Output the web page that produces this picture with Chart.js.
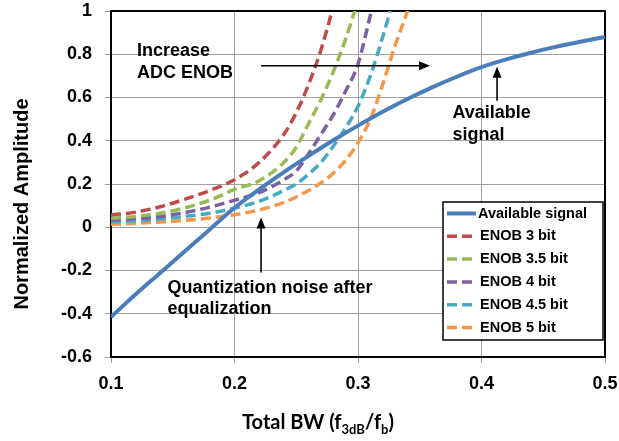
<!DOCTYPE html>
<html>
<head>
<meta charset="utf-8">
<script src="https://cdn.jsdelivr.net/npm/chart.js@4/dist/chart.umd.min.js"></script>
<style>
  html, body { margin: 0; padding: 0; background: #fff; }
  #chart { display: block; }
</style>
</head>
<body>
<canvas id="chart" width="619" height="441"></canvas>
<script>
/* ── data ────────────────────────────────────────────────────────────────── */

const bwSignal        = [0.10, 0.12, 0.14, 0.16, 0.18, 0.20, 0.22, 0.24, 0.26, 0.28, 0.30,
                         0.32, 0.34, 0.36, 0.38, 0.40, 0.42, 0.44, 0.46, 0.48, 0.50];
const availableSignal = [-0.415, -0.31, -0.21, -0.11, -0.01, 0.09, 0.175, 0.255, 0.33, 0.402, 0.47,
                         0.534, 0.593, 0.647, 0.696, 0.74, 0.776, 0.807, 0.834, 0.858, 0.88];

const bwEnob3  = [0.10, 0.12, 0.14, 0.16, 0.18, 0.20, 0.22, 0.24, 0.25, 0.26, 0.27, 0.28];
const enob3    = [0.057, 0.07, 0.095, 0.13, 0.17, 0.22, 0.30, 0.43, 0.53, 0.66, 0.82, 1.02];

const bwEnob35 = [0.10, 0.12, 0.14, 0.16, 0.18, 0.20, 0.22, 0.24, 0.25, 0.26, 0.27, 0.28, 0.29, 0.30];
const enob35   = [0.042, 0.05, 0.065, 0.09, 0.125, 0.175, 0.215, 0.30, 0.37, 0.48, 0.59, 0.72, 0.87, 1.05];

const bwEnob4  = [0.10, 0.12, 0.14, 0.16, 0.18, 0.20, 0.22, 0.24, 0.25, 0.26, 0.27, 0.28, 0.29, 0.30, 0.31, 0.315];
const enob4    = [0.034, 0.04, 0.05, 0.068, 0.093, 0.125, 0.16, 0.22, 0.26, 0.34, 0.43, 0.52, 0.63, 0.755, 0.98, 1.1];

const bwEnob45 = [0.10, 0.12, 0.14, 0.16, 0.18, 0.20, 0.22, 0.24, 0.25, 0.26, 0.27, 0.28, 0.29, 0.30, 0.31, 0.32, 0.33];
const enob45   = [0.025, 0.03, 0.038, 0.05, 0.065, 0.088, 0.12, 0.17, 0.20, 0.245, 0.30, 0.375, 0.46, 0.56, 0.70, 0.88, 1.08];

const bwEnob5  = [0.10, 0.12, 0.14, 0.16, 0.18, 0.20, 0.22, 0.24, 0.25, 0.26, 0.27, 0.28, 0.29, 0.30, 0.31, 0.32, 0.33, 0.34, 0.345];
const enob5    = [0.014, 0.018, 0.024, 0.032, 0.043, 0.058, 0.08, 0.115, 0.14, 0.17, 0.205, 0.25, 0.31, 0.39, 0.50, 0.66, 0.84, 1.0, 1.1];

const seriesLabels = ['Available signal', 'ENOB 3 bit', 'ENOB 3.5 bit', 'ENOB 4 bit', 'ENOB 4.5 bit', 'ENOB 5 bit'];
const seriesColors = ['#4a7ebb', '#be4b48', '#98b954', '#7d60a0', '#46aac5', '#f79646'];

const xTicks = { min: 0.1, max: 0.5, step: 0.1 };
const yTicks = { min: -0.6, max: 1, step: 0.2 };

/* ── helpers ─────────────────────────────────────────────────────────────── */

const FONT = "'Liberation Sans', Arial, sans-serif";

const toPoints = (xs, ys) => xs.map((x, i) => ({ x, y: ys[i] }));

function dashed(i, xs, ys) {
  return {
    label:            seriesLabels[i],
    data:             toPoints(xs, ys),
    borderColor:      seriesColors[i],
    borderWidth:      3.5,
    borderDash:       [10, 5],
    pointRadius:      0,
    cubicInterpolationMode: 'monotone',
    clip:             0,
  };
}

function arrow(ctx, x1, y1, x2, y2) {
  const ang = Math.atan2(y2 - y1, x2 - x1);
  const len = 11, half = 4.5;
  ctx.beginPath();
  ctx.moveTo(x1, y1);
  ctx.lineTo(x2 - Math.cos(ang) * len * 0.8, y2 - Math.sin(ang) * len * 0.8);
  ctx.stroke();
  ctx.beginPath();
  ctx.moveTo(x2, y2);
  ctx.lineTo(x2 - Math.cos(ang) * len - Math.sin(ang) * half, y2 - Math.sin(ang) * len + Math.cos(ang) * half);
  ctx.lineTo(x2 - Math.cos(ang) * len + Math.sin(ang) * half, y2 - Math.sin(ang) * len - Math.cos(ang) * half);
  ctx.closePath();
  ctx.fill();
}

/* ── plugins ─────────────────────────────────────────────────────────────── */

// black frame round the plot area, drawn over the grid but under the lines
const plotFrame = {
  id: 'plotFrame',
  beforeDatasetsDraw(chart) {
    const { ctx, chartArea: a } = chart;
    ctx.save();
    ctx.strokeStyle = '#000';
    ctx.lineWidth = 2;
    ctx.strokeRect(a.left, a.top, a.right - a.left, a.bottom - a.top);
    ctx.restore();
  },
};

// text notes and arrows, placed in data units
const notes = {
  id: 'notes',
  afterDatasetsDraw(chart) {
    const { ctx } = chart;
    const X = v => chart.scales.x.getPixelForValue(v);
    const Y = v => chart.scales.y.getPixelForValue(v);
    ctx.save();
    ctx.fillStyle = '#000';
    ctx.strokeStyle = '#000';
    ctx.lineWidth = 1.6;
    arrow(ctx, X(0.2215), Y(0.747), X(0.3583), Y(0.747));
    arrow(ctx, X(0.2215), Y(-0.209), X(0.2215), Y(0.045));
    arrow(ctx, X(0.4126), Y(0.585), X(0.4126), Y(0.742));

    ctx.font = 'bold 18px ' + FONT;
    ctx.textAlign = 'left';
    ctx.textBaseline = 'middle';
    ctx.fillText('Increase', X(0.121), Y(0.813));
    ctx.fillText('ADC ENOB', X(0.121), Y(0.713));
    ctx.fillText('Available', X(0.3765), Y(0.53));
    ctx.fillText('signal', X(0.3765), Y(0.428));
    ctx.fillText('Quantization noise after', X(0.1458), Y(-0.283));
    ctx.fillText('equalization', X(0.1458), Y(-0.38));
    ctx.restore();
  },
};

// boxed legend in the lower right of the plot
const legendBox = {
  id: 'legendBox',
  afterDraw(chart) {
    const { ctx, chartArea: a } = chart;
    const w = 160, h = 138;
    const left = a.right - 2 - w, top = a.bottom - 17 - h;
    ctx.save();
    ctx.fillStyle = '#fff';
    ctx.fillRect(left, top, w, h);
    ctx.strokeStyle = '#000';
    ctx.lineWidth = 1.5;
    ctx.strokeRect(left, top, w, h);

    ctx.font = 'bold 14.5px ' + FONT;
    ctx.textBaseline = 'middle';
    chart.data.datasets.forEach((ds, i) => {
      const y = top + 11.5 + i * 22.8;
      ctx.strokeStyle = ds.borderColor;
      ctx.lineWidth = ds.borderWidth;
      ctx.setLineDash(ds.borderDash || []);
      ctx.beginPath();
      ctx.moveTo(left + 4, y);
      ctx.lineTo(left + 33, y);
      ctx.stroke();
      ctx.setLineDash([]);
      ctx.fillStyle = '#000';
      ctx.fillText(ds.label, left + 35 + (i ? 2 : 0), y);
    });
    ctx.restore();
  },
};

// axis titles (the x title needs subscripts)
const axisTitles = {
  id: 'axisTitles',
  afterDraw(chart) {
    const { ctx } = chart;
    ctx.save();
    ctx.fillStyle = '#000';

    ctx.font = 'bold 20px ' + FONT;
    ctx.textAlign = 'center';
    ctx.textBaseline = 'middle';
    ctx.translate(22, 204);
    ctx.rotate(-Math.PI / 2);
    ctx.fillText('Normalized Amplitude', 0, 0);
    ctx.setTransform(1, 0, 0, 1, 0, 0);

    const parts = [
      ['Total BW (f', false], ['3dB', true], ['/f', false], ['b', true], [')', false],
    ];
    const big = 'bold 20px Lato, sans-serif', small = 'bold 13px Lato, sans-serif';
    let total = 0;
    parts.forEach(([t, sub]) => { ctx.font = sub ? small : big; total += ctx.measureText(t).width; });
    let x = 318 - total / 2;
    const base = 429;
    ctx.textAlign = 'left';
    ctx.textBaseline = 'alphabetic';
    parts.forEach(([t, sub]) => {
      ctx.font = sub ? small : big;
      ctx.fillText(t, x, sub ? base + 5 : base);
      x += ctx.measureText(t).width;
    });
    ctx.restore();
  },
};

/* ── chart ───────────────────────────────────────────────────────────────── */

const fmtTick = v => {
  const r = Math.round(v * 10) / 10;
  return (r === 0 ? 0 : r).toString();
};

// fixed plot box: 111px for the y axis, 84px for the x axis
function fitX(s) {
  s.height = 84;
  s.paddingLeft = 0;
  s.paddingRight = 0;
}
function fitY(s) {
  s.width = 111;
  s.paddingTop = 0;
  s.paddingBottom = 0;
}

new Chart(document.getElementById('chart'), {
  type: 'line',
  data: {
    datasets: [
      {
        label:       seriesLabels[0],
        data:        toPoints(bwSignal, availableSignal),
        borderColor: seriesColors[0],
        borderWidth: 4,
        pointRadius: 0,
        cubicInterpolationMode: 'monotone',
        clip:        0,
      },
      dashed(1, bwEnob3, enob3),
      dashed(2, bwEnob35, enob35),
      dashed(3, bwEnob4, enob4),
      dashed(4, bwEnob45, enob45),
      dashed(5, bwEnob5, enob5),
    ],
  },
  options: {
    responsive: false,
    animation:  false,
    devicePixelRatio: 1,
    layout: { autoPadding: false, padding: { left: 0, right: 14, top: 11, bottom: 0 } },
    plugins: {
      legend:  { display: false },
      tooltip: { enabled: false },
    },
    scales: {
      x: {
        type: 'linear',
        min:  xTicks.min,
        max:  xTicks.max,
        afterFit: fitX,
        border: { display: false },
        grid:   { color: '#a0a0a0', tickColor: '#a0a0a0', tickLength: 6 },
        ticks: {
          stepSize: xTicks.step,
          padding:  10,
          color:    '#000',
          font:     { family: FONT, size: 18, weight: 'bold' },
          callback: fmtTick,
        },
      },
      y: {
        min: yTicks.min,
        max: yTicks.max,
        afterFit: fitY,
        border: { display: false },
        grid:   { color: '#a0a0a0', tickColor: '#a0a0a0', tickLength: 6 },
        ticks: {
          stepSize: yTicks.step,
          padding:  13,
          color:    '#000',
          font:     { family: FONT, size: 18, weight: 'bold' },
          callback: fmtTick,
        },
      },
    },
  },
  plugins: [plotFrame, notes, legendBox, axisTitles],
});
</script>
</body>
</html>
